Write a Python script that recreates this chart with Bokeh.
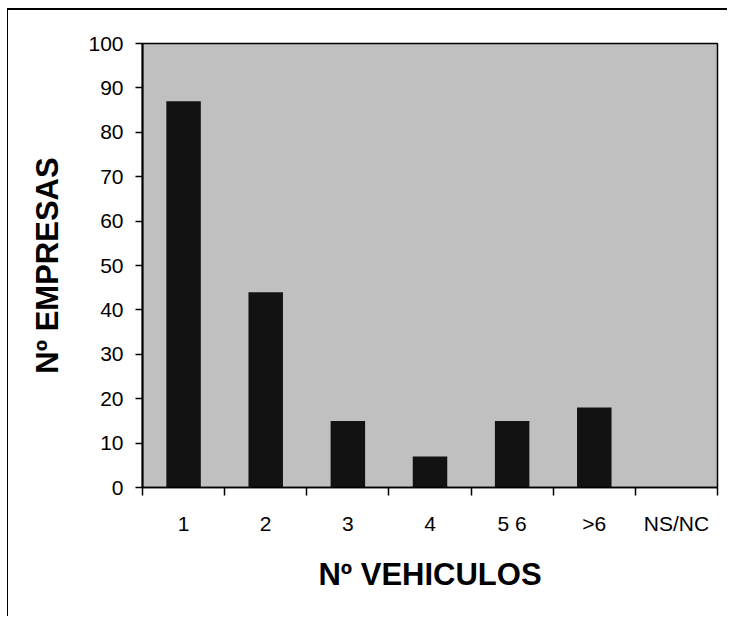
from bokeh.plotting import figure
from bokeh.models import FixedTicker, Range1d, ColumnDataSource
from bokeh.embed import file_html
from bokeh.resources import INLINE

# ---- data ----
categories = ["1", "2", "3", "4", "5 6", ">6", "NS/NC"]
empresas = [87, 44, 15, 7, 15, 18, 0]
y_ticks = [0, 10, 20, 30, 40, 50, 60, 70, 80, 90, 100]
x_title = "Nº VEHICULOS"
y_title = "Nº EMPRESAS"

# positions: one slot per category, bars centred in slot, ticks at slot edges
x_centres = [i + 0.5 for i in range(len(categories))]
x_edges = list(range(len(categories) + 1))

source = ColumnDataSource(dict(x=x_centres, top=empresas, cat=categories))

p = figure(
    width=720, height=608,
    x_range=Range1d(0, len(categories)), y_range=Range1d(0, 100),
    output_backend="svg", toolbar_location=None,
    min_border_left=134, min_border_right=11,
    min_border_top=33, min_border_bottom=131,
)

p.vbar(x="x", top="top", width=0.42, source=source,
       fill_color="#121212", line_color=None)

p.background_fill_color = "#c0c0c0"
p.border_fill_color = "white"
p.outline_line_color = "black"
p.outline_line_width = 1.5
p.grid.visible = False

font = "Liberation Sans"

# x axis
xa = p.xaxis[0]
xa.ticker = FixedTicker(ticks=x_centres, minor_ticks=x_edges)
xa.major_label_overrides = {xc: c for xc, c in zip(x_centres, categories)}
xa.major_tick_in = 0
xa.major_tick_out = 0
xa.minor_tick_in = 0
xa.minor_tick_out = 8
xa.minor_tick_line_color = "black"
xa.minor_tick_line_width = 1.5
xa.axis_line_color = "black"
xa.axis_line_width = 1.5
xa.major_label_standoff = 16
xa.axis_label = x_title
xa.axis_label_standoff = 19

# y axis
ya = p.yaxis[0]
ya.ticker = FixedTicker(ticks=y_ticks)
ya.major_tick_in = 0
ya.major_tick_out = 7
ya.major_tick_line_color = "black"
ya.major_tick_line_width = 1.5
ya.minor_tick_out = 0
ya.minor_tick_in = 0
ya.axis_line_color = "black"
ya.axis_line_width = 2
ya.major_label_standoff = 12
ya.axis_label = y_title
ya.axis_label_standoff = 20

for ax in (xa, ya):
    ax.major_label_text_font = font
    ax.major_label_text_font_size = "21px"
    ax.major_label_text_color = "black"
    ax.axis_label_text_font = font
    ax.axis_label_text_font_size = "31px"
    ax.axis_label_text_font_style = "bold"
    ax.axis_label_text_color = "black"

p.styles = {"border-top": "2px solid black", "border-left": "1px solid black",
            "margin-left": "7px", "margin-top": "8px"}

open("out.html", "w").write(file_html(p, INLINE))
